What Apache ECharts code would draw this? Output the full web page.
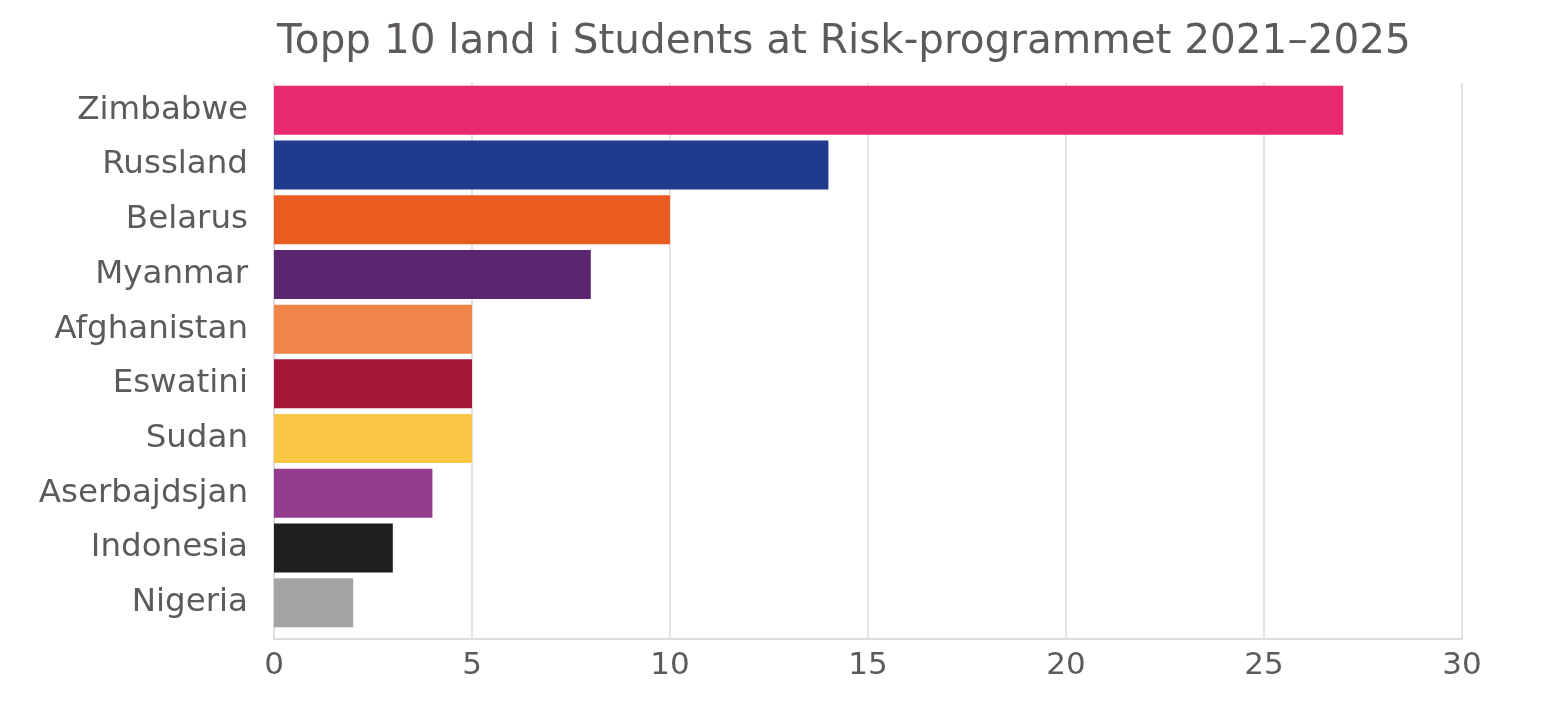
<!DOCTYPE html>
<html><head><meta charset="utf-8">
<script src="https://cdn.jsdelivr.net/npm/echarts@6/dist/echarts.min.js"></script>
<style>html,body{margin:0;padding:0;background:#fff}#c{width:1556px;height:705px}</style>
</head><body><div id="c"></div>
<script>
const categories = ['Zimbabwe','Russland','Belarus','Myanmar','Afghanistan','Eswatini','Sudan','Aserbajdsjan','Indonesia','Nigeria'];
const values = [27,14,10,8,5,5,5,4,3,2];
const colors = ['#E8296F','#1F3A8F','#EA5B1F','#5C2570','#F08449','#A41538','#FCC745','#933B8E','#1E1E1E','#A3A4A6'];
const xTicks = [0,5,10,15,20,25,30];
const FONT = 'DejaVu Sans';
const TXT = '#5e5a5a';
const chart = echarts.init(document.getElementById('c'));
chart.setOption({
  animation:false,
  title:{text:'Topp 10 land i Students at Risk-programmet 2021\u20132025',left:272,top:17,
    textStyle:{fontFamily:FONT,fontSize:40.5,fontWeight:'normal',color:TXT}},
  grid:[
    {left:274,right:94,top:83,bottom:66},
    {left:274,right:94,top:83,bottom:75}
  ],
  xAxis:[
    {type:'value',gridIndex:0,min:0,max:30,interval:5,
      axisLine:{show:true,lineStyle:{color:'#dcdcdc',width:2}},
      axisTick:{show:false},
      splitLine:{lineStyle:{color:'#e3e3e3',width:2}},
      axisLabel:{fontFamily:FONT,fontSize:31,color:TXT,margin:11,
        formatter:v=>xTicks.includes(v)?String(v):''}},
    {type:'value',gridIndex:1,min:0,max:30,interval:5,show:false,splitLine:{show:false}}
  ],
  yAxis:[
    {type:'category',gridIndex:0,inverse:true,data:categories,
      axisLine:{show:true,lineStyle:{color:'#dcdcdc',width:2}},
      axisTick:{show:false},axisLabel:{show:false}},
    {type:'category',gridIndex:1,inverse:true,data:categories,
      axisLine:{show:false},axisTick:{show:false},
      axisLabel:{fontFamily:FONT,fontSize:32.5,color:TXT,margin:26}}
  ],
  series:[{type:'bar',xAxisIndex:1,yAxisIndex:1,barCategoryGap:'10.5%',
    data:values.map((v,i)=>({value:v,itemStyle:{color:colors[i]}}))}]
});
</script></body></html>
